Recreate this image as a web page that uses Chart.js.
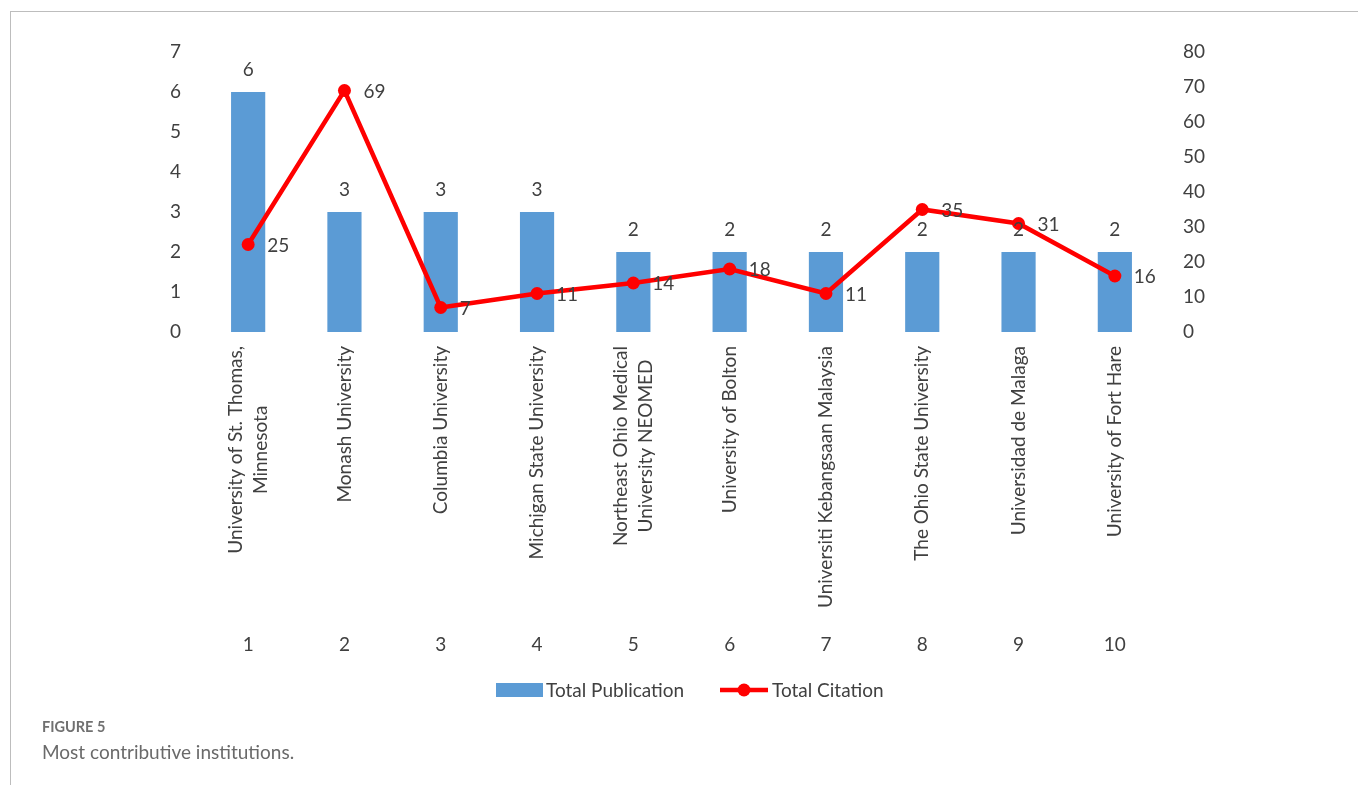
<!DOCTYPE html>
<html>
<head>
<meta charset="utf-8">
<script src="https://cdn.jsdelivr.net/npm/chart.js@4.4.1/dist/chart.umd.min.js"></script>
<style>
html, body { margin: 0; padding: 0; background: #fff; }
#wrap { position: relative; width: 1358px; height: 785px; overflow: hidden; }
#frame { position: absolute; left: 10px; top: 11px; width: 1400px; height: 800px;
         border-top: 1px solid #bdbdbd; border-left: 1px solid #bdbdbd; }
#chart { position: absolute; left: 0; top: 0; }
.fig { position: absolute; left: 42px; top: 718px; font-family: Lato, sans-serif; font-weight: bold;
       font-size: 14.5px; color: #707070; }
.cap { position: absolute; left: 42px; top: 740px; font-family: Lato, sans-serif; font-size: 19px; color: #6a6a6a; }
</style>
</head>
<body>
<div id="wrap">
  <div id="frame"></div>
  <canvas id="chart" width="1358" height="785"></canvas>
  <div class="fig">FIGURE 5</div>
  <div class="cap">Most contributive institutions.</div>
</div>
<script>
// data
const institutions = [
  ["University of St. Thomas,", "Minnesota"],
  "Monash University",
  "Columbia University",
  "Michigan State University",
  ["Northeast Ohio Medical", "University NEOMED"],
  "University of Bolton",
  "Universiti Kebangsaan Malaysia",
  "The Ohio State University",
  "Universidad de Malaga",
  "University of Fort Hare"
];
const ranks = ["1", "2", "3", "4", "5", "6", "7", "8", "9", "10"];
const publications = [6, 3, 3, 3, 2, 2, 2, 2, 2, 2];
const citations = [25, 69, 7, 11, 14, 18, 11, 35, 31, 16];
const seriesNames = ["Total Publication", "Total Citation"];

const textColor = '#404040';
const barColor = '#5b9bd5';
const lineColor = '#ff0000';
const font = '19px Lato';

// value labels, rotated institution names, rank row and legend
const labelPlugin = {
  id: 'labelPlugin',
  afterDatasetsDraw(chart) {
    const { ctx, scales: { x } } = chart;
    ctx.save();
    ctx.fillStyle = textColor;
    ctx.font = font;

    chart.getDatasetMeta(0).data.forEach((bar, i) => {
      ctx.textAlign = 'center';
      ctx.textBaseline = 'middle';
      ctx.fillText(publications[i], bar.x, bar.y - 22);
    });
    chart.getDatasetMeta(1).data.forEach((pt, i) => {
      ctx.textAlign = 'left';
      ctx.textBaseline = 'middle';
      ctx.fillText(citations[i], pt.x + 19, pt.y + 1);
    });

    // names: block top-aligned under the axis, lines centred in the block
    institutions.forEach((name, i) => {
      const lines = Array.isArray(name) ? name : [name];
      const cx = x.getPixelForValue(i);
      const maxW = Math.max(...lines.map(l => ctx.measureText(l).width));
      lines.forEach((ln, j) => {
        const off = (j - (lines.length - 1) / 2) * 25;
        ctx.save();
        ctx.translate(cx + off, 346 + maxW / 2);
        ctx.rotate(-Math.PI / 2);
        ctx.textAlign = 'center';
        ctx.textBaseline = 'middle';
        ctx.fillText(ln, 0, 0);
        ctx.restore();
      });
      ctx.textAlign = 'center';
      ctx.textBaseline = 'middle';
      ctx.fillText(ranks[i], cx, 645);
    });

    // legend
    const ly = 690;
    ctx.fillStyle = barColor;
    ctx.fillRect(496, ly - 7, 47, 14);
    ctx.fillStyle = textColor;
    ctx.textAlign = 'left';
    ctx.fillText(seriesNames[0], 546, ly + 1);

    ctx.strokeStyle = lineColor;
    ctx.lineWidth = 4.5;
    ctx.beginPath();
    ctx.moveTo(720, ly);
    ctx.lineTo(768, ly);
    ctx.stroke();
    ctx.fillStyle = lineColor;
    ctx.beginPath();
    ctx.arc(744, ly, 6.5, 0, Math.PI * 2);
    ctx.fill();
    ctx.fillStyle = textColor;
    ctx.fillText(seriesNames[1], 772, ly + 1);
    ctx.restore();
  }
};

new Chart(document.getElementById('chart'), {
  data: {
    labels: ranks,
    datasets: [
      {
        type: 'bar',
        label: seriesNames[0],
        data: publications,
        backgroundColor: barColor,
        yAxisID: 'y',
        barPercentage: 0.355,
        categoryPercentage: 1,
        order: 2
      },
      {
        type: 'line',
        label: seriesNames[1],
        data: citations,
        borderColor: lineColor,
        backgroundColor: lineColor,
        borderWidth: 4.5,
        pointRadius: 6.5,
        pointBackgroundColor: lineColor,
        pointBorderWidth: 0,
        tension: 0,
        yAxisID: 'y1',
        order: 1
      }
    ]
  },
  options: {
    responsive: false,
    animation: false,
    layout: { padding: { left: 170, right: 135, top: 52, bottom: 453 } },
    plugins: { legend: { display: false }, tooltip: { enabled: false } },
    scales: {
      x: { display: false },
      y: {
        position: 'left',
        min: 0, max: 7,
        ticks: { stepSize: 1, color: textColor, font: { family: 'Lato', size: 19 }, padding: 19 },
        grid: { display: false, drawTicks: false },
        border: { display: false },
        afterFit(scale) { scale.width = 30; }
      },
      y1: {
        position: 'right',
        min: 0, max: 80,
        ticks: { stepSize: 10, color: textColor, font: { family: 'Lato', size: 19 }, padding: 20 },
        grid: { display: false, drawTicks: false },
        border: { display: false },
        afterFit(scale) { scale.width = 60; }
      }
    }
  },
  plugins: [labelPlugin]
});
</script>
</body>
</html>
